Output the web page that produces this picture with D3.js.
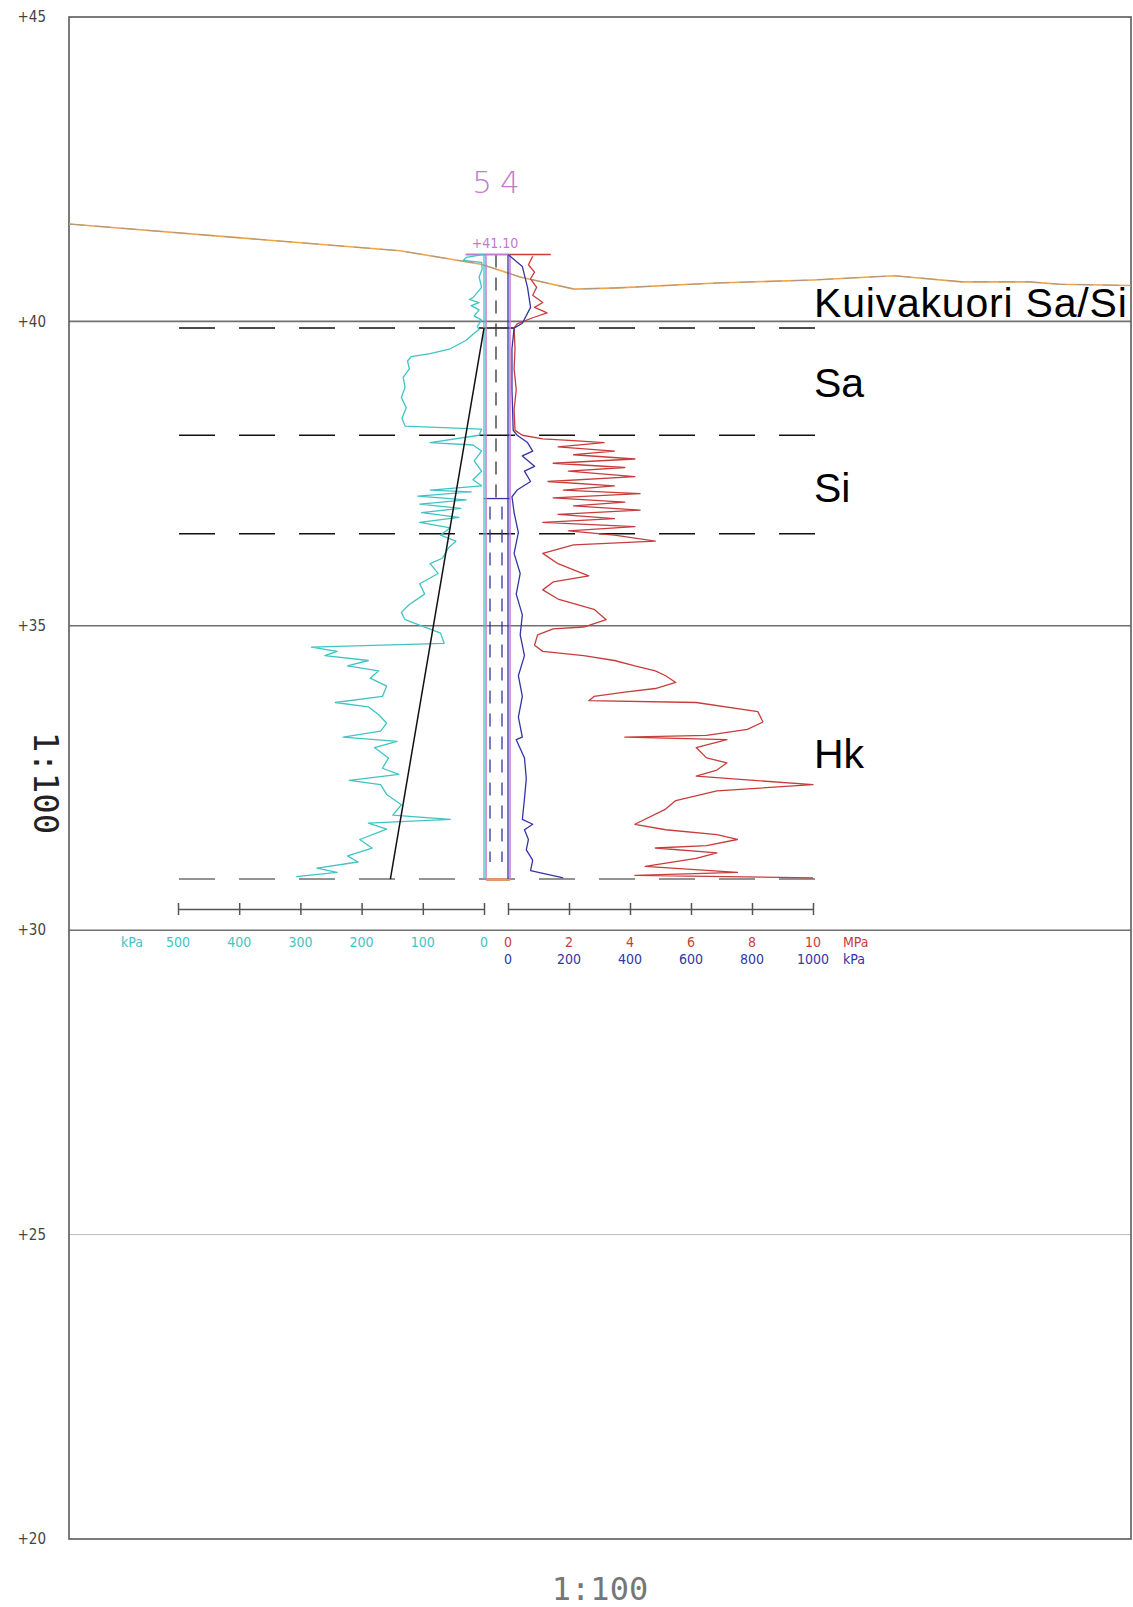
<!DOCTYPE html>
<html>
<head>
<meta charset="utf-8">
<script src="https://cdn.jsdelivr.net/npm/d3@7"></script>
<style>
  body { margin: 0; background: #fff; }
  svg { display: block; }
</style>
</head>
<body>
<div id="chart"></div>
<script>
'use strict';

// elevation grid
var elevTicks = [45, 40, 35, 30, 25, 20];
var strongGrid = [40, 35, 30];

// terrain profile (distance m, elevation)
var groundDist = [0, 5.44, 6.77, 7.41, 8.30, 9.02, 10.63, 12.22, 13.56, 14.67, 15.77, 16.28, 17.45];
var groundElev = [41.60, 41.16, 40.94, 40.73, 40.53, 40.55, 40.63, 40.68, 40.75, 40.65, 40.65, 40.61, 40.59];

// sounding 54
var pointName = '54';
var topElev = 41.10;
var bottomElev = 30.84;
var casingElev = 37.09;
var pairEndElev = 31.12;

// soil layers
var layerBounds = [39.89, 38.13, 36.51, 30.84];
var layerNames = ['Kuivakuori Sa/Si', 'Sa', 'Si', 'Hk'];
var layerLabelElev = [40.07, 38.76, 37.03, 32.66];

// scale bars
var leftTicks = [500, 400, 300, 200, 100, 0];
var mpaTicks = [0, 2, 4, 6, 8, 10];
var kpaTicks = [0, 200, 400, 600, 800, 1000];

// reference line (elevation, kPa)
var refElev = [39.89, 30.84];
var refKpa = [0, 153];

// cyan trace: depth below top (m), kPa
var cyanDepth = [0, 0.05, 0.10, 0.13, 0.24, 0.37, 0.54, 0.71, 0.74, 0.79, 0.84, 0.91, 1.01, 1.08, 1.18, 1.23, 1.31, 1.41, 1.55, 1.63, 1.68, 1.75, 1.88, 2.02, 2.18, 2.35, 2.52, 2.69, 2.82, 2.87, 2.97, 3.09, 3.13, 3.23, 3.39, 3.56, 3.70, 3.80, 3.87, 3.90, 3.97, 4.03, 4.10, 4.17, 4.24, 4.32, 4.40, 4.49, 4.61, 4.71, 4.82, 4.99, 5.08, 5.24, 5.41, 5.58, 5.75, 5.88, 6.00, 6.22, 6.39, 6.45, 6.52, 6.59, 6.67, 6.76, 6.84, 6.96, 7.09, 7.26, 7.36, 7.43, 7.56, 7.70, 7.83, 7.93, 8.00, 8.10, 8.27, 8.44, 8.54, 8.64, 8.71, 8.87, 9.04, 9.21, 9.28, 9.34, 9.44, 9.61, 9.75, 9.88, 9.98, 10.08, 10.15, 10.22];
var cyanKpa = [0, 29, 34, 4, 3, 8, 4, 18, 24, 8, 21, 8, 16, 4, 11, 8, 18, 29, 55, 88, 119, 125, 122, 132, 129, 135, 127, 134, 129, 4, 8, 88, 18, 4, 16, 4, 18, 4, 88, 21, 108, 29, 105, 38, 102, 41, 105, 55, 71, 46, 58, 68, 88, 75, 105, 97, 122, 135, 129, 71, 65, 282, 240, 260, 189, 223, 172, 186, 159, 166, 243, 189, 172, 159, 169, 230, 142, 179, 156, 166, 139, 220, 169, 159, 135, 149, 55, 189, 159, 203, 183, 223, 206, 273, 240, 307];

// red trace: depth (m), MPa
var redDepth = [0.03, 0.17, 0.29, 0.40, 0.54, 0.67, 0.79, 0.87, 0.96, 1.04, 1.14, 1.21, 1.55, 1.88, 2.22, 2.55, 2.89, 2.97, 3.03, 3.06, 3.09, 3.16, 3.23, 3.29, 3.36, 3.43, 3.50, 3.56, 3.65, 3.73, 3.80, 3.87, 3.93, 4.00, 4.07, 4.13, 4.20, 4.27, 4.34, 4.40, 4.47, 4.54, 4.61, 4.71, 4.77, 4.91, 5.08, 5.18, 5.28, 5.38, 5.51, 5.66, 5.83, 6.00, 6.12, 6.15, 6.25, 6.42, 6.52, 6.59, 6.67, 6.76, 6.84, 6.92, 7.03, 7.13, 7.19, 7.26, 7.33, 7.36, 7.51, 7.68, 7.80, 7.90, 7.93, 7.97, 8.10, 8.27, 8.35, 8.47, 8.57, 8.71, 8.81, 8.97, 9.11, 9.36, 9.45, 9.53, 9.61, 9.71, 9.75, 9.83, 9.92, 10.05, 10.15, 10.20, 10.24];
var redMpa = [0.81, 0.67, 0.87, 0.74, 0.94, 0.81, 1.14, 0.87, 1.28, 0.81, 0.30, 0.20, 0.23, 0.20, 0.27, 0.20, 0.23, 0.47, 1.14, 2.15, 3.15, 1.64, 3.49, 2.15, 4.16, 1.48, 3.83, 1.98, 4.16, 1.31, 3.49, 1.81, 4.33, 1.48, 3.83, 2.15, 4.33, 1.64, 3.49, 1.14, 4.16, 1.98, 3.49, 4.83, 2.15, 1.14, 1.64, 2.15, 2.65, 1.48, 1.14, 1.64, 2.82, 3.22, 2.48, 1.48, 0.97, 0.87, 1.14, 2.48, 3.49, 4.16, 4.83, 5.17, 5.50, 4.83, 3.83, 2.82, 2.65, 6.17, 8.19, 8.36, 7.85, 6.51, 3.83, 7.18, 6.17, 6.51, 7.18, 6.85, 6.17, 10.0, 6.85, 5.50, 5.17, 4.16, 5.17, 6.85, 7.52, 6.51, 4.83, 6.85, 6.17, 4.50, 7.52, 4.16, 10.0];

// blue trace: depth (m), kPa
var blueDepth = [0, 0.20, 0.54, 0.87, 1.13, 1.21, 1.55, 2.22, 2.89, 2.97, 3.09, 3.23, 3.31, 3.48, 3.56, 3.73, 3.87, 3.98, 4.24, 4.57, 4.91, 5.24, 5.58, 5.92, 6.25, 6.59, 6.92, 7.26, 7.60, 7.93, 7.97, 8.27, 8.61, 8.94, 9.28, 9.36, 9.45, 9.61, 9.78, 9.95, 10.12, 10.24];
var blueKpa = [0, 47, 64, 74, 47, 20, 13, 13, 17, 30, 64, 81, 47, 87, 54, 74, 30, 13, 20, 34, 20, 40, 27, 47, 40, 54, 34, 47, 34, 47, 27, 54, 60, 54, 47, 81, 54, 67, 60, 81, 74, 181];

var width = 1133, height = 1607;
var frame = {left: 69, right: 1131, top: 17, bottom: 1539};

var svg = d3.select('#chart').append('svg')
  .attr('width', width)
  .attr('height', height);

var y = d3.scaleLinear().domain([20, 45]).range([frame.bottom, frame.top]);
var xDist = d3.scaleLinear().domain([0, 17.45]).range([frame.left, frame.right]);
var xCyan = d3.scaleLinear().domain([0, 500]).range([484, 178]);
var xMpa = d3.scaleLinear().domain([0, 10]).range([508, 813]);
var xBlue = d3.scaleLinear().domain([0, 1000]).range([508, 813]);

var colCyan = '#3fc4c4', colRed = '#c83c3c', colBlue = '#3434a4', colPurple = '#c07ccc';
var condensed = '"DejaVu Sans Condensed", "DejaVu Sans", sans-serif';

// grid lines
svg.append('g').selectAll('line')
  .data(elevTicks.filter(function(d) { return d > 20 && d < 45; }))
  .enter().append('line')
  .attr('x1', frame.left).attr('x2', frame.right)
  .attr('y1', function(d) { return y(d); })
  .attr('y2', function(d) { return y(d); })
  .attr('stroke', function(d) { return strongGrid.indexOf(d) >= 0 ? '#707070' : '#bdbdbd'; })
  .attr('stroke-width', function(d) { return strongGrid.indexOf(d) >= 0 ? 1.6 : 1; });

// frame
svg.append('rect')
  .attr('x', frame.left).attr('y', frame.top)
  .attr('width', frame.right - frame.left)
  .attr('height', frame.bottom - frame.top)
  .attr('fill', 'none')
  .attr('stroke', '#5a5a5a')
  .attr('stroke-width', 1.6);

// elevation labels
svg.append('g').selectAll('text')
  .data(elevTicks)
  .enter().append('text')
  .attr('x', 46)
  .attr('y', function(d) { return y(d); })
  .attr('dy', '0.35em')
  .attr('text-anchor', 'end')
  .style('font-family', condensed)
  .style('font-size', '15px')
  .style('fill', '#444')
  .text(function(d) { return '+' + d; });

// scale text
svg.append('text')
  .attr('transform', 'translate(34,783) rotate(90)')
  .attr('text-anchor', 'middle')
  .style('font-family', '"DejaVu Sans Mono", monospace')
  .style('font-size', '34px')
  .style('fill', '#222')
  .text('1:100');

svg.append('text')
  .attr('x', 600).attr('y', 1600)
  .attr('text-anchor', 'middle')
  .style('font-family', '"DejaVu Sans Mono", monospace')
  .style('font-weight', 300)
  .style('font-size', '32px')
  .style('fill', '#777')
  .text('1:100');

// terrain
var groundLine = d3.line()
  .x(function(d) { return xDist(d[0]); })
  .y(function(d) { return y(d[1]); });
var ground = d3.zip(groundDist, groundElev);
svg.append('path')
  .attr('d', groundLine(ground))
  .attr('fill', 'none')
  .attr('stroke', '#f5a444')
  .attr('stroke-width', 1.6);
svg.append('path')
  .attr('d', groundLine(ground))
  .attr('fill', 'none')
  .attr('stroke', '#a09a94')
  .attr('stroke-width', 1)
  .attr('stroke-dasharray', '16,10');

// layer boundaries
svg.append('g').selectAll('line')
  .data(layerBounds)
  .enter().append('line')
  .attr('x1', 179).attr('x2', 815)
  .attr('y1', function(d) { return y(d); })
  .attr('y2', function(d) { return y(d); })
  .attr('stroke', function(d, i) { return i === layerBounds.length - 1 ? '#707070' : '#111'; })
  .attr('stroke-width', 1.5)
  .attr('stroke-dasharray', '36,24');

// layer names
svg.append('g').selectAll('text')
  .data(layerNames)
  .enter().append('text')
  .attr('x', 814)
  .attr('y', function(d, i) { return y(layerLabelElev[i]); })
  .style('font-family', '"Liberation Sans", Arial, sans-serif')
  .style('font-size', '41px')
  .style('letter-spacing', function(d, i) { return i === 0 ? '0.8px' : '0'; })
  .style('fill', '#000')
  .text(function(d) { return d; });

// column
var colL = xCyan(0), colR = xMpa(0), colMid = (colL + colR) / 2;
var g = svg.append('g');

g.append('rect')
  .attr('x', colL + 2).attr('y', y(bottomElev) - 1)
  .attr('width', colR - colL).attr('height', 3)
  .attr('fill', '#e09a6a');

g.append('line')
  .attr('x1', colMid).attr('x2', colMid)
  .attr('y1', y(topElev)).attr('y2', y(casingElev))
  .attr('stroke', '#333').attr('stroke-width', 1.3)
  .attr('stroke-dasharray', '13,10');

g.append('line')
  .attr('x1', colL).attr('x2', colR + 2)
  .attr('y1', y(casingElev)).attr('y2', y(casingElev))
  .attr('stroke', colBlue).attr('stroke-width', 1.3);

[-6, 6].forEach(function(off) {
  g.append('line')
    .attr('x1', colMid + off).attr('x2', colMid + off)
    .attr('y1', y(casingElev) + 8).attr('y2', y(pairEndElev))
    .attr('stroke', colBlue).attr('stroke-width', 1.3)
    .attr('stroke-dasharray', '13,10');
});

g.append('line')
  .attr('x1', colL).attr('x2', colL)
  .attr('y1', y(topElev)).attr('y2', y(bottomElev))
  .attr('stroke', colCyan).attr('stroke-width', 1.3);
g.append('line')
  .attr('x1', colL + 2).attr('x2', colL + 2)
  .attr('y1', y(topElev)).attr('y2', y(bottomElev))
  .attr('stroke', colPurple).attr('stroke-width', 1.5);
g.append('line')
  .attr('x1', colR).attr('x2', colR)
  .attr('y1', y(topElev)).attr('y2', y(bottomElev))
  .attr('stroke', colBlue).attr('stroke-width', 1.3);
g.append('line')
  .attr('x1', colR + 2).attr('x2', colR + 2)
  .attr('y1', y(topElev)).attr('y2', y(bottomElev))
  .attr('stroke', colPurple).attr('stroke-width', 1.5);

// top bar
g.append('line')
  .attr('x1', xCyan(30)).attr('x2', colR + 2)
  .attr('y1', y(topElev)).attr('y2', y(topElev))
  .attr('stroke', colPurple).attr('stroke-width', 2);
g.append('line')
  .attr('x1', colR + 2).attr('x2', xMpa(1.4))
  .attr('y1', y(topElev)).attr('y2', y(topElev))
  .attr('stroke', colRed).attr('stroke-width', 1.5);

g.append('text')
  .attr('x', colMid - 1).attr('y', y(topElev) - 6)
  .attr('text-anchor', 'middle')
  .style('font-family', condensed)
  .style('font-size', '14px')
  .style('fill', colPurple)
  .text('+' + topElev.toFixed(2));

g.append('text')
  .attr('x', colMid + 4).attr('y', 193)
  .attr('text-anchor', 'middle')
  .style('font-family', '"DejaVu Sans", sans-serif')
  .style('font-weight', 200)
  .style('font-size', '31px')
  .style('letter-spacing', '8px')
  .style('fill', colPurple)
  .text(pointName);

// traces
function trace(depths, values, xs, color) {
  var line = d3.line()
    .x(function(d) { return xs(d[1]); })
    .y(function(d) { return y(topElev - d[0]); });
  svg.append('path')
    .attr('d', line(d3.zip(depths, values)))
    .attr('fill', 'none')
    .attr('stroke', color)
    .attr('stroke-width', 1.3)
    .attr('stroke-linejoin', 'round');
}
trace(cyanDepth, cyanKpa, xCyan, colCyan);
trace(redDepth, redMpa, xMpa, colRed);
trace(blueDepth, blueKpa, xBlue, colBlue);

// reference line
svg.append('path')
  .attr('d', d3.line()
    .x(function(d) { return xCyan(d[1]); })
    .y(function(d) { return y(d[0]); })(d3.zip(refElev, refKpa)))
  .attr('fill', 'none')
  .attr('stroke', '#111')
  .attr('stroke-width', 1.5);

// scale bars
var barY = 909;
function bar(scale, ticks) {
  var ax = svg.append('g')
    .attr('transform', 'translate(0,' + barY + ')')
    .call(d3.axisBottom(scale).tickValues(ticks).tickSizeOuter(0).tickFormat(''));
  ax.select('.domain').attr('stroke', '#555').attr('stroke-width', 1.5);
  ax.selectAll('.tick line').attr('y1', -6).attr('y2', 6).attr('stroke', '#555').attr('stroke-width', 1.5);
}
bar(xCyan, leftTicks);
bar(xMpa, mpaTicks);

function labels(scale, ticks, row, color) {
  svg.append('g').selectAll('text')
    .data(ticks)
    .enter().append('text')
    .attr('x', function(d) { return scale(d); })
    .attr('y', row)
    .attr('text-anchor', 'middle')
    .style('font-family', condensed)
    .style('font-size', '14px')
    .style('fill', color)
    .text(function(d) { return d; });
}
labels(xCyan, leftTicks, 947, colCyan);
labels(xMpa, mpaTicks, 947, colRed);
labels(xBlue, kpaTicks, 964, colBlue);

function unit(x, row, color, txt) {
  svg.append('text')
    .attr('x', x).attr('y', row)
    .style('font-family', condensed)
    .style('font-size', '14px')
    .style('fill', color)
    .text(txt);
}
unit(121, 947, colCyan, 'kPa');
unit(843, 947, colRed, 'MPa');
unit(843, 964, colBlue, 'kPa');
</script>
</body>
</html>
